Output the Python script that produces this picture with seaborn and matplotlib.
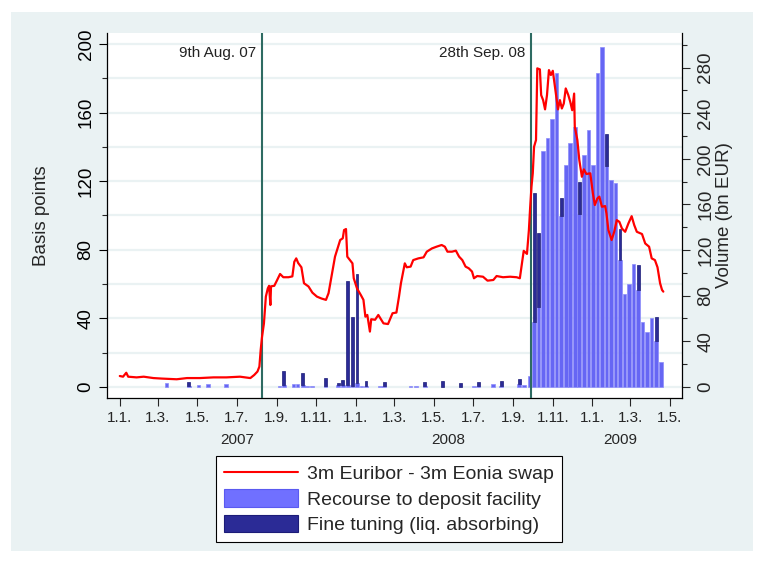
import numpy as np
import pandas as pd
import matplotlib
matplotlib.use("Agg")
import matplotlib.pyplot as plt
import matplotlib.dates as mdates
import matplotlib.transforms as mtransforms
from matplotlib.ticker import MultipleLocator
from matplotlib.lines import Line2D
from matplotlib.patches import Patch, Rectangle
import seaborn as sns

# ---------------- data ----------------
spread_dates = [
    "2007-01-01", "2007-01-06", "2007-01-11", "2007-01-14", "2007-01-27", "2007-02-07",
    "2007-02-22", "2007-03-07", "2007-03-30", "2007-04-15", "2007-05-05", "2007-05-26",
    "2007-06-15", "2007-07-06", "2007-07-22", "2007-07-28", "2007-08-02", "2007-08-05",
    "2007-08-07", "2007-08-09", "2007-08-12", "2007-08-15", "2007-08-18", "2007-08-20",
    "2007-08-22", "2007-08-23", "2007-08-28", "2007-09-01", "2007-09-06", "2007-09-11",
    "2007-09-19", "2007-09-25", "2007-09-28", "2007-10-01", "2007-10-04", "2007-10-09",
    "2007-10-13", "2007-10-20", "2007-10-26", "2007-11-02", "2007-11-09", "2007-11-16",
    "2007-11-20", "2007-11-25", "2007-11-30", "2007-12-04", "2007-12-08", "2007-12-12",
    "2007-12-14", "2007-12-17", "2007-12-19", "2007-12-23", "2007-12-27", "2007-12-29",
    "2008-01-03", "2008-01-09", "2008-01-13", "2008-01-16", "2008-01-19", "2008-01-23",
    "2008-01-25", "2008-01-31", "2008-02-05", "2008-02-13", "2008-02-20", "2008-02-27",
    "2008-03-04", "2008-03-08", "2008-03-11", "2008-03-15", "2008-03-17", "2008-03-20",
    "2008-03-26", "2008-03-30", "2008-04-07", "2008-04-15", "2008-04-20", "2008-04-28",
    "2008-05-05", "2008-05-13", "2008-05-18", "2008-05-22", "2008-05-29", "2008-06-04",
    "2008-06-09", "2008-06-14", "2008-06-19", "2008-06-24", "2008-06-29", "2008-07-02",
    "2008-07-07", "2008-07-16", "2008-07-23", "2008-08-01", "2008-08-06", "2008-08-16",
    "2008-08-27", "2008-09-06", "2008-09-11", "2008-09-14", "2008-09-17", "2008-09-22",
    "2008-09-25", "2008-09-27", "2008-09-29", "2008-10-01", "2008-10-03", "2008-10-06",
    "2008-10-08", "2008-10-12", "2008-10-14", "2008-10-17", "2008-10-20", "2008-10-23",
    "2008-10-26", "2008-10-29", "2008-11-01", "2008-11-05", "2008-11-09", "2008-11-12",
    "2008-11-15", "2008-11-18", "2008-11-21", "2008-11-25", "2008-11-28", "2008-12-01",
    "2008-12-04", "2008-12-05", "2008-12-09", "2008-12-12", "2008-12-16", "2008-12-19",
    "2008-12-23", "2008-12-29", "2009-01-02", "2009-01-05", "2009-01-09", "2009-01-12",
    "2009-01-16", "2009-01-21", "2009-01-23", "2009-01-26", "2009-01-31", "2009-02-04",
    "2009-02-08", "2009-02-12", "2009-02-16", "2009-02-21", "2009-02-26", "2009-03-03",
    "2009-03-07", "2009-03-11", "2009-03-19", "2009-03-24", "2009-03-30", "2009-04-03",
    "2009-04-08", "2009-04-12", "2009-04-16", "2009-04-19", "2009-04-21",
]
spread_bp = [
    6.4, 6.0, 8.3, 6.0, 5.6, 6.0,
    5.2, 4.9, 4.5, 5.2, 5.2, 5.6,
    5.6, 6.0, 5.2, 7.0, 9.0, 11.9,
    21.6, 29.0, 37.0, 52.7, 57.5, 59.0,
    47.8, 58.7, 59.0, 62.0, 65.9, 64.0,
    64.0, 64.5, 73.0, 75.0, 72.3, 69.8,
    60.5, 58.6, 55.0, 52.7, 51.6, 50.8,
    54.7, 65.3, 76.0, 80.9, 85.7, 86.7,
    91.5, 92.1, 76.0, 74.0, 72.1, 63.4,
    57.5, 53.6, 50.8, 41.0, 42.0, 32.3,
    39.5, 39.2, 42.0, 37.1, 36.7, 43.0,
    43.4, 52.7, 60.5, 68.2, 72.1, 69.8,
    70.2, 74.0, 75.0, 75.6, 78.9, 80.8,
    81.8, 82.8, 81.8, 78.9, 78.9, 79.5,
    76.0, 74.0, 70.2, 69.2, 67.3, 63.4,
    64.7, 64.3, 62.0, 62.4, 64.7, 64.0,
    64.3, 64.0, 63.4, 71.2, 79.4, 77.6,
    91.5, 105.0, 116.8, 124.6, 140.1, 144.0,
    185.8, 185.2, 170.2, 167.3, 161.9, 170.2,
    184.8, 181.9, 184.4, 173.1, 161.9, 167.3,
    162.4, 165.3, 174.1, 170.2, 166.3, 161.4,
    171.1, 151.8, 144.0, 132.3, 122.6, 126.9,
    124.2, 124.6, 112.9, 106.1, 110.0, 111.0,
    105.1, 105.5, 101.2, 91.5, 85.7, 90.5,
    97.3, 96.3, 92.4, 90.5, 95.4, 99.6,
    94.4, 90.5, 89.2, 83.7, 81.8, 75.0,
    74.0, 69.8, 60.5, 56.6, 55.6,
]

bar_dates = [
    "2007-03-14", "2007-04-18", "2007-05-03", "2007-05-17", "2007-06-14", "2007-09-05",
    "2007-09-12", "2007-09-27", "2007-10-03", "2007-10-11", "2007-10-18", "2007-10-25",
    "2007-11-15", "2007-12-05", "2007-12-12", "2007-12-20", "2007-12-27", "2008-01-03",
    "2008-01-10", "2008-01-17", "2008-02-08", "2008-02-14", "2008-03-26", "2008-04-03",
    "2008-04-17", "2008-05-15", "2008-06-11", "2008-07-02", "2008-07-09", "2008-07-31",
    "2008-08-13", "2008-09-10", "2008-09-17",
    "2008-09-26", "2008-10-03", "2008-10-10", "2008-10-17", "2008-10-24", "2008-10-31",
    "2008-11-07", "2008-11-14", "2008-11-21", "2008-11-28", "2008-12-05", "2008-12-12",
    "2008-12-19", "2008-12-26", "2009-01-02", "2009-01-09", "2009-01-16", "2009-01-23",
    "2009-01-30", "2009-02-06", "2009-02-13", "2009-02-20", "2009-02-27", "2009-03-06",
    "2009-03-13", "2009-03-20", "2009-03-27", "2009-04-03", "2009-04-10", "2009-04-17",
]
deposit_bn = [
    3.0, 0.5, 1.5, 2.0, 2.0, 1.0,
    1.5, 2.0, 2.0, 1.5, 1.0, 1.0,
    1.0, 1.5, 1.5, 1.5, 1.0, 3.0,
    1.0, 1.0, 0.5, 0.5, 0.5, 0.5,
    0.5, 0.0, 0.0, 1.0, 0.5, 2.0,
    1.0, 2.0, 1.5,
    9.0, 57.0, 70.0, 207.0, 218.0, 235.0,
    275.0, 150.0, 195.0, 214.0, 228.0, 152.0,
    203.5, 225.5, 195.0, 275.0, 298.0, 194.0,
    181.0, 179.0, 111.0, 81.6, 90.4, 108.0,
    84.5, 57.0, 48.0, 60.5, 40.0, 22.0,
]
finetune_bn = [
    0.0, 4.0, 0.0, 0.0, 0.0, 0.0,
    12.5, 0.0, 0.0, 10.5, 0.0, 0.0,
    7.0, 1.5, 4.0, 91.5, 60.0, 96.0,
    0.0, 4.0, 0.0, 3.5, 0.0, 0.0,
    4.0, 5.0, 3.0, 0.0, 3.5, 0.0,
    4.0, 5.0, 0.0,
    0.0, 113.0, 65.0, 0.0, 0.0, 0.0,
    0.0, 15.5, 0.0, 0.0, 0.0, 28.0,
    0.0, 0.0, 0.0, 0.0, 0.0, 28.0,
    0.0, 0.0, 27.0, 0.0, 0.0, 0.0,
    22.0, 0.0, 0.0, 0.0, 21.0, 0.0,
]

tick_dates = ["2007-01-01", "2007-03-01", "2007-05-01", "2007-07-01", "2007-09-01", "2007-11-01",
              "2008-01-01", "2008-03-01", "2008-05-01", "2008-07-01", "2008-09-01", "2008-11-01",
              "2009-01-01", "2009-03-01", "2009-05-01"]
tick_labels = ["1.1.", "1.3.", "1.5.", "1.7.", "1.9.", "1.11.",
               "1.1.", "1.3.", "1.5.", "1.7.", "1.9.", "1.11.",
               "1.1.", "1.3.", "1.5."]
year_labels = ["2007", "2008", "2009"]
year_label_dates = ["2007-07-02", "2008-05-23", "2009-02-13"]

event_dates = ["2007-08-09", "2008-09-28"]
event_labels = ["9th Aug. 07", "28th Sep. 08"]

legend_labels = ["3m Euribor - 3m Eonia swap", "Recourse to deposit facility",
                 "Fine tuning (liq. absorbing)"]

# ---------------- style ----------------
BG = "#EAF2F3"
GRID = "#EAF2F3"
RED = "#FF0000"
LIGHT = "#6666F4"
LIGHT_EDGE = "#8C8CFA"
DARK = "#2B2B96"
DARK_EDGE = "#1C1C78"
TEAL = "#2E6B62"

sns.set_style("white")
plt.rcParams['font.family'] = ['Liberation Sans', 'DejaVu Sans']

fig = plt.figure(figsize=(7.64, 5.63), dpi=100, facecolor="white")
W, H = 764.0, 563.0
# bluish graph region inside a thin white margin
fig.patches.append(Rectangle((11 / W, 1 - 551 / H), (753 - 11) / W, (551 - 12) / H,
                             transform=fig.transFigure, facecolor=BG, edgecolor="none",
                             zorder=-10))

pos = [107 / W, 1 - 398.3 / H, (682 - 107) / W, (398.3 - 32.7) / H]

ax = fig.add_axes(pos, label="bp")
ax.xaxis_date()
ax_v = ax.twinx()
ax_l = fig.add_axes(pos, sharex=ax, sharey=ax, label="line")

ax.set_zorder(0)
ax_v.set_zorder(1)
ax_l.set_zorder(2)
ax.set_facecolor("white")
ax_v.patch.set_visible(False)
ax_l.patch.set_visible(False)

# bars
bdates = pd.to_datetime(bar_dates)
dep = np.array(deposit_bn)
ft = np.array(finetune_bn)
has_dep = dep > 0
ax_v.bar(bdates[has_dep], dep[has_dep], width=5.6, color=LIGHT,
         edgecolor=LIGHT_EDGE, linewidth=0.5)
has_ft = ft > 0
ax_v.bar(bdates[has_ft], ft[has_ft], bottom=dep[has_ft], width=4.5, color=DARK,
         edgecolor=DARK_EDGE, linewidth=0.5)

# line
df = pd.DataFrame({"date": pd.to_datetime(spread_dates), "bp": spread_bp})
for d in event_dates:
    ax_l.axvline(pd.Timestamp(d), color=TEAL, lw=1.5, zorder=1)
sns.lineplot(data=df, x="date", y="bp", ax=ax_l, color=RED, linewidth=1.6,
             estimator=None, sort=False, zorder=3)

for d, lab in zip(event_dates, event_labels):
    ax_l.annotate(lab, xy=(mdates.date2num(pd.Timestamp(d)), 0.944),
                  xycoords=mtransforms.blended_transform_factory(ax_l.transData, ax_l.transAxes),
                  xytext=(-4, 0), textcoords="offset points",
                  ha="right", va="center", fontsize=11, color="#222222")

# limits
t0 = mdates.date2num(pd.Timestamp("2007-01-01"))
ax.set_xlim(t0 - 19.8, t0 + 869.9)
ax.set_ylim(-6.6, 206.6)
ax_v.set_ylim(-10.2, 310.7)

# left axis
ax.set_yticks(np.arange(0, 201, 40))
ax.yaxis.set_minor_locator(MultipleLocator(20))
ax.grid(True, which="both", axis="y", color=GRID, linewidth=1.6)
ax.grid(False, axis="x")
ax.set_axisbelow(True)
ax.tick_params(axis="y", which="major", length=6, width=0.8, direction="out",
               labelsize=13.5, pad=3, left=True, colors="black")
ax.tick_params(axis="y", which="minor", length=3.5, width=0.8, direction="out", left=True)
for t in ax.get_yticklabels():
    t.set_rotation(90)
    t.set_va("center")
ax.set_ylabel("Basis points", fontsize=13.5, labelpad=20)

# x axis
ax.set_xticks(pd.to_datetime(tick_dates))
ax.set_xticklabels(tick_labels)
ax.tick_params(axis="x", which="major", length=6, width=0.8, direction="out",
               labelsize=11, pad=3, bottom=True)
ax.xaxis.set_minor_locator(matplotlib.ticker.NullLocator())
tr = mtransforms.blended_transform_factory(ax.transData, ax.transAxes)
for d, lab in zip(year_label_dates, year_labels):
    ax.text(mdates.date2num(pd.Timestamp(d)), -0.114, lab, transform=tr,
            ha="center", va="center", fontsize=11)

# right axis
ax_v.set_yticks(np.arange(0, 281, 40))
ax_v.yaxis.set_minor_locator(MultipleLocator(20))
ax_v.tick_params(axis="y", which="major", length=6, width=0.8, direction="out",
                 labelsize=13.5, pad=5, right=True)
ax_v.tick_params(axis="y", which="minor", length=3.5, width=0.8, direction="out", right=True)
for t in ax_v.get_yticklabels():
    t.set_rotation(90)
    t.set_va("center")
ax_v.set_ylabel("Volume (bn EUR)", fontsize=13.5, labelpad=1)

# spines
for s in ["top", "right"]:
    ax.spines[s].set_visible(False)
for s in ["left", "bottom"]:
    ax.spines[s].set_color("black")
    ax.spines[s].set_linewidth(0.9)
for s in ["top", "left", "bottom"]:
    ax_v.spines[s].set_visible(False)
ax_v.spines["right"].set_color("black")
ax_v.spines["right"].set_linewidth(0.9)
ax_l.set_axis_off()

# legend
handles = [Line2D([0], [0], color=RED, lw=1.5),
           Patch(facecolor="#7070FF", edgecolor="#5A5AF0", linewidth=0.8),
           Patch(facecolor=DARK, edgecolor=DARK_EDGE, linewidth=0.8)]
leg = fig.legend(handles=handles, labels=legend_labels, loc="center",
                 bbox_to_anchor=(389 / W, 1 - 499 / H), frameon=True, fancybox=False,
                 edgecolor="black", facecolor="white", framealpha=1, fontsize=14,
                 handlelength=3.8, handleheight=1.0, handletextpad=0.5,
                 labelspacing=0.3, borderpad=0.4)
leg.get_frame().set_linewidth(0.8)

fig.savefig("out.png", dpi=100, facecolor="white")
